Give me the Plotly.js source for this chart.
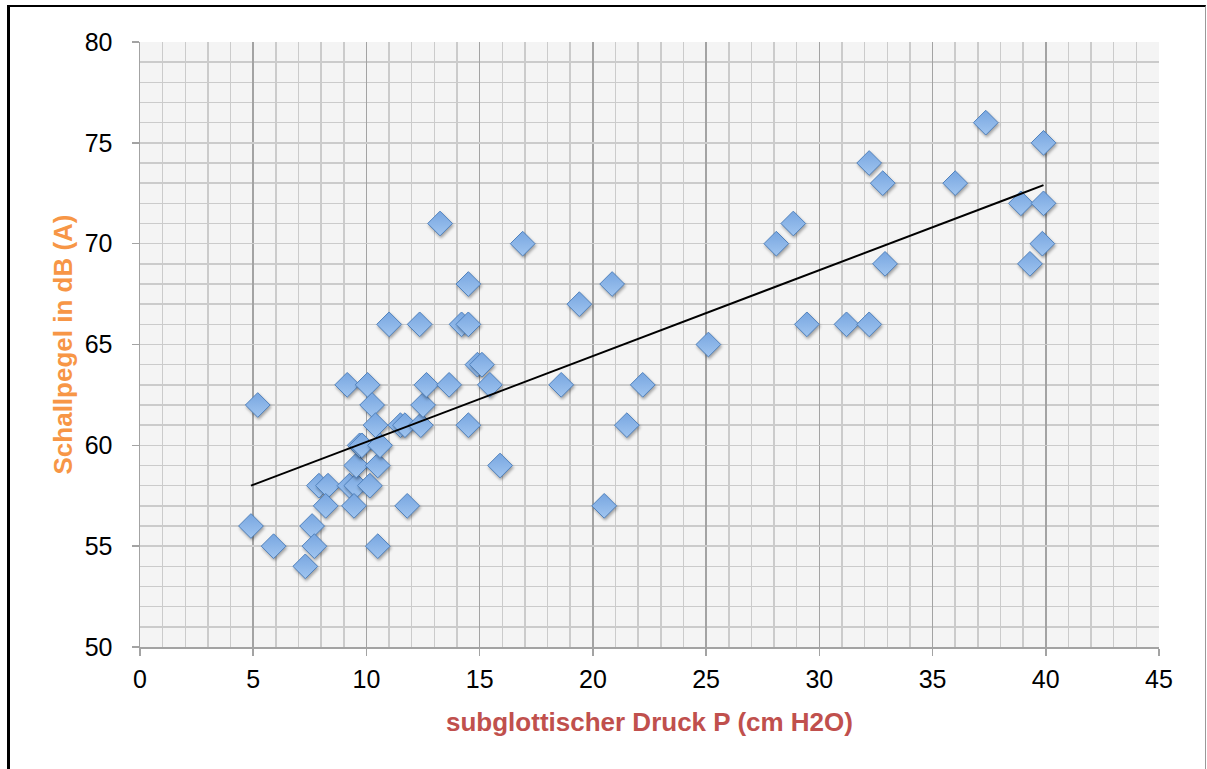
<!DOCTYPE html>
<html>
<head>
<meta charset="utf-8">
<script src="https://cdn.plot.ly/plotly-3.0.1.min.js"></script>
<style>
  html, body { margin: 0; padding: 0; background: #fff; overflow: hidden; }
  #chart { width: 1207px; height: 769px; position: absolute; left: 0; top: 0; }
  #frame { position: absolute; left: 7px; top: 5px; width: 1199px; height: 800px;
           border-top: 2px solid #000; border-left: 3px solid #000; border-right: 1px solid #999;
           pointer-events: none; box-sizing: border-box; }
  .scatterlayer .trace:first-child .points path { filter: drop-shadow(1px 2px 1.5px rgba(0,0,0,0.35)); }
</style>
</head>
<body>
<div id="chart"></div>
<div id="frame"></div>
<script>
const pressure = [5.2, 4.9, 5.9, 7.3, 7.6, 7.7, 7.9, 8.3, 8.2, 9.15, 9.25, 9.55, 9.45, 9.55, 9.7, 9.8,
  10.05, 10.15, 10.25, 10.4, 10.5, 10.6, 10.5, 11.0, 11.5, 11.7, 11.8, 12.35, 12.4, 12.5, 12.65, 13.25,
  13.65, 14.2, 14.5, 14.5, 14.5, 14.9, 15.1, 15.45, 15.9, 16.9, 18.6, 19.4, 20.5, 20.85, 21.5, 22.2,
  25.1, 28.1, 28.85, 29.45, 31.2, 32.2, 32.2, 32.8, 32.9, 36.0, 37.35, 38.9, 39.3, 39.85, 39.9, 39.9];
const level = [62, 56, 55, 54, 56, 55, 58, 58, 57, 63, 58, 58, 57, 59, 60, 60,
  63, 58, 62, 61, 59, 60, 55, 66, 61, 61, 57, 66, 61, 62, 63, 71,
  63, 66, 66, 68, 61, 64, 64, 63, 59, 70, 63, 67, 57, 68, 61, 63,
  65, 70, 71, 66, 66, 74, 66, 73, 69, 73, 76, 72, 69, 70, 75, 72];
const trendX = [4.9, 39.9];
const trendY = [58.0, 72.9];
const xTicks = [0, 5, 10, 15, 20, 25, 30, 35, 40, 45];
const yTicks = [50, 55, 60, 65, 70, 75, 80];

const tickFont = {family: 'Liberation Sans, Arial, sans-serif', size: 25, color: '#000'};

const data = [
  {
    type: 'scatter', mode: 'markers', x: pressure, y: level,
    marker: {symbol: 'diamond', size: 19, color: '#78a6e0',
             gradient: {type: 'vertical', color: '#a0c5f0'},
             line: {color: '#4f81bd', width: 1}},
    hoverinfo: 'x+y', showlegend: false
  },
  {
    type: 'scatter', mode: 'lines', x: trendX, y: trendY,
    line: {color: '#000', width: 2}, hoverinfo: 'skip', showlegend: false
  }
];

const layout = {
  width: 1207, height: 769,
  margin: {l: 140, r: 48, t: 42, b: 122, pad: 0},
  paper_bgcolor: '#ffffff', plot_bgcolor: '#f4f4f4',
  showlegend: false,
  xaxis: {
    range: [0, 45], tickvals: xTicks, ticktext: xTicks.map(String),
    showgrid: true, gridcolor: '#a3a3a3', gridwidth: 1.5,
    minor: {dtick: 1, showgrid: true, gridcolor: '#cbcbcb', gridwidth: 1.5, ticks: ''},
    showline: true, linecolor: '#a3a3a3', linewidth: 1.5,
    ticks: 'outside', ticklen: 7, tickcolor: '#a3a3a3', tickwidth: 1.5,
    tickfont: tickFont, ticklabelstandoff: 2, zeroline: false,
    title: {text: 'subglottischer Druck P (cm H2O)', standoff: 21,
            font: {family: 'Liberation Sans, Arial, sans-serif', size: 26, color: '#c0504d', weight: 'bold'}}
  },
  yaxis: {
    range: [50, 80], tickvals: yTicks, ticktext: yTicks.map(String),
    showgrid: true, gridcolor: '#cbcbcb', gridwidth: 1.5,
    minor: {dtick: 1, showgrid: true, gridcolor: '#cbcbcb', gridwidth: 1.5, ticks: ''},
    showline: true, linecolor: '#a3a3a3', linewidth: 1.5,
    ticks: 'outside', ticklen: 7, tickcolor: '#a3a3a3', tickwidth: 1.5,
    tickfont: tickFont, ticklabelstandoff: 14, zeroline: false,
    title: {text: 'Schallpegel in dB (A)', standoff: 4,
            font: {family: 'Liberation Sans, Arial, sans-serif', size: 26, color: '#f79646', weight: 'bold'}}
  }
};

Plotly.newPlot('chart', data, layout, {displayModeBar: false, staticPlot: true});
</script>
</body>
</html>
